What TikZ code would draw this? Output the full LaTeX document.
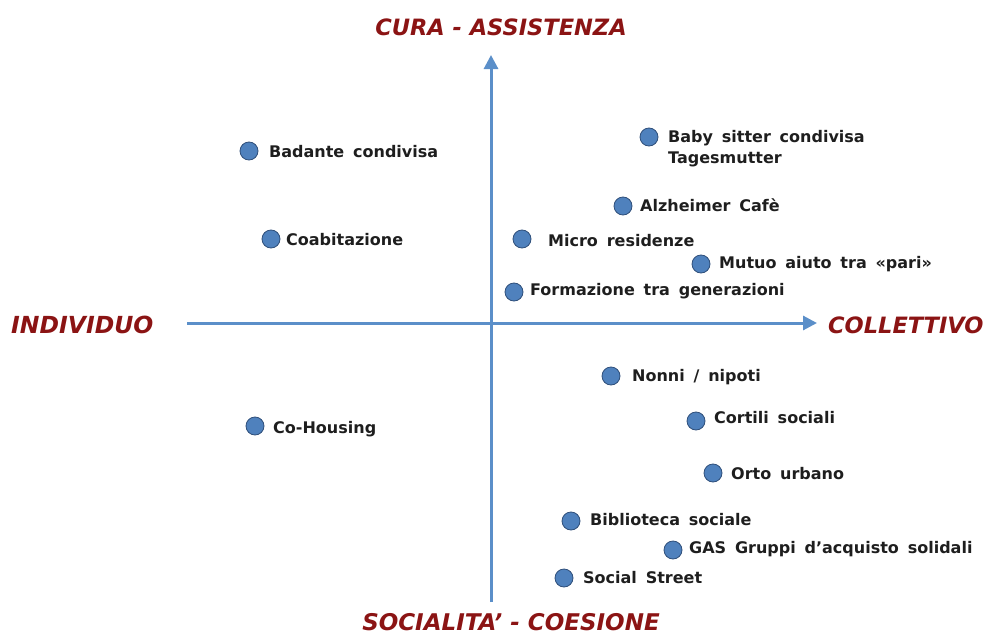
\documentclass[tikz,border=0pt]{standalone}
\usepackage{fontspec}
\setmainfont{DejaVu Sans}
\usetikzlibrary{arrows.meta}
\definecolor{axisblue}{HTML}{5B8FC9}
\definecolor{dotfill}{HTML}{4F81BD}
\definecolor{dotedge}{HTML}{2F4F7A}
\definecolor{titlered}{HTML}{8B1414}
\definecolor{labelgray}{HTML}{1E1E1E}
\newcommand{\mylblfont}{\fontsize{16}{21}\selectfont\bfseries\spaceskip=0.55em plus 0.1em\relax}
\tikzset{
  axis/.style={axisblue, line width=3pt, -{Triangle[length=14pt,width=14pt]}},
  dot/.style={circle, fill=dotfill, draw=dotedge, line width=0.8pt, minimum size=18pt, inner sep=0pt},
  lbl/.style={anchor=west, inner sep=0pt, text=labelgray, font=\mylblfont, align=left},
  ttl/.style={inner sep=0pt, text=titlered, font=\fontsize{22.5}{26}\selectfont\bfseries\itshape},
}
\begin{document}
\begin{tikzpicture}[x=1pt,y=-1pt]
\useasboundingbox (0,0) rectangle (983,637);
% axes
\coordinate (vb) at (491,602);
\coordinate (vt) at (491,55);
\coordinate (hl) at (187,323);
\coordinate (hr) at (817,323);
\draw[axis] (vb) -- (vt);
\draw[axis] (hl) -- (hr);
% titles
\node[ttl] (tcura) at (501,27) {CURA - ASSISTENZA};
\node[ttl, font=\fontsize{23}{26}\selectfont\bfseries\itshape] (tsoc) at (511,622) {SOCIALITA’ - COESIONE};
\node[ttl, anchor=west, font=\fontsize{23.5}{26}\selectfont\bfseries\itshape] (tind) at (11,325) {INDIVIDUO};
\node[ttl, anchor=west] (tcol) at (828,325) {COLLETTIVO};
% dots and labels
\node[dot] (d1) at (249,151) {};
\node[lbl] (l1) at (269,152) {Badante condivisa};
\node[dot] (d2) at (271,239) {};
\node[lbl] (l2) at (286,240) {Coabitazione};
\node[dot] (d3) at (255,426) {};
\node[lbl] (l3) at (273,429) {Co-Housing};
\node[dot] (d4) at (649,137) {};
\node[lbl, anchor=north west] (l4) at (668,130) {Baby sitter condivisa\\Tagesmutter};
\node[dot] (d5) at (623,206) {};
\node[lbl] (l5) at (640,205) {Alzheimer Cafè};
\node[dot] (d6) at (522,239) {};
\node[lbl] (l6) at (548,241) {Micro residenze};
\node[dot] (d7) at (701,264) {};
\node[lbl] (l7) at (719,264) {Mutuo aiuto tra «pari»};
\node[dot] (d8) at (514,292) {};
\node[lbl] (l8) at (530,291) {Formazione tra generazioni};
\node[dot] (d9) at (611,376) {};
\node[lbl] (l9) at (632,377) {Nonni / nipoti};
\node[dot] (d10) at (696,421) {};
\node[lbl] (l10) at (714,418) {Cortili sociali};
\node[dot] (d11) at (713,473) {};
\node[lbl] (l11) at (731,474) {Orto urbano};
\node[dot] (d12) at (571,521) {};
\node[lbl] (l12) at (590,520) {Biblioteca sociale};
\node[dot] (d13) at (673,550) {};
\node[lbl] (l13) at (689,549) {GAS Gruppi d’acquisto solidali};
\node[dot] (d14) at (564,578) {};
\node[lbl] (l14) at (583,578) {Social Street};
\end{tikzpicture}
\end{document}
